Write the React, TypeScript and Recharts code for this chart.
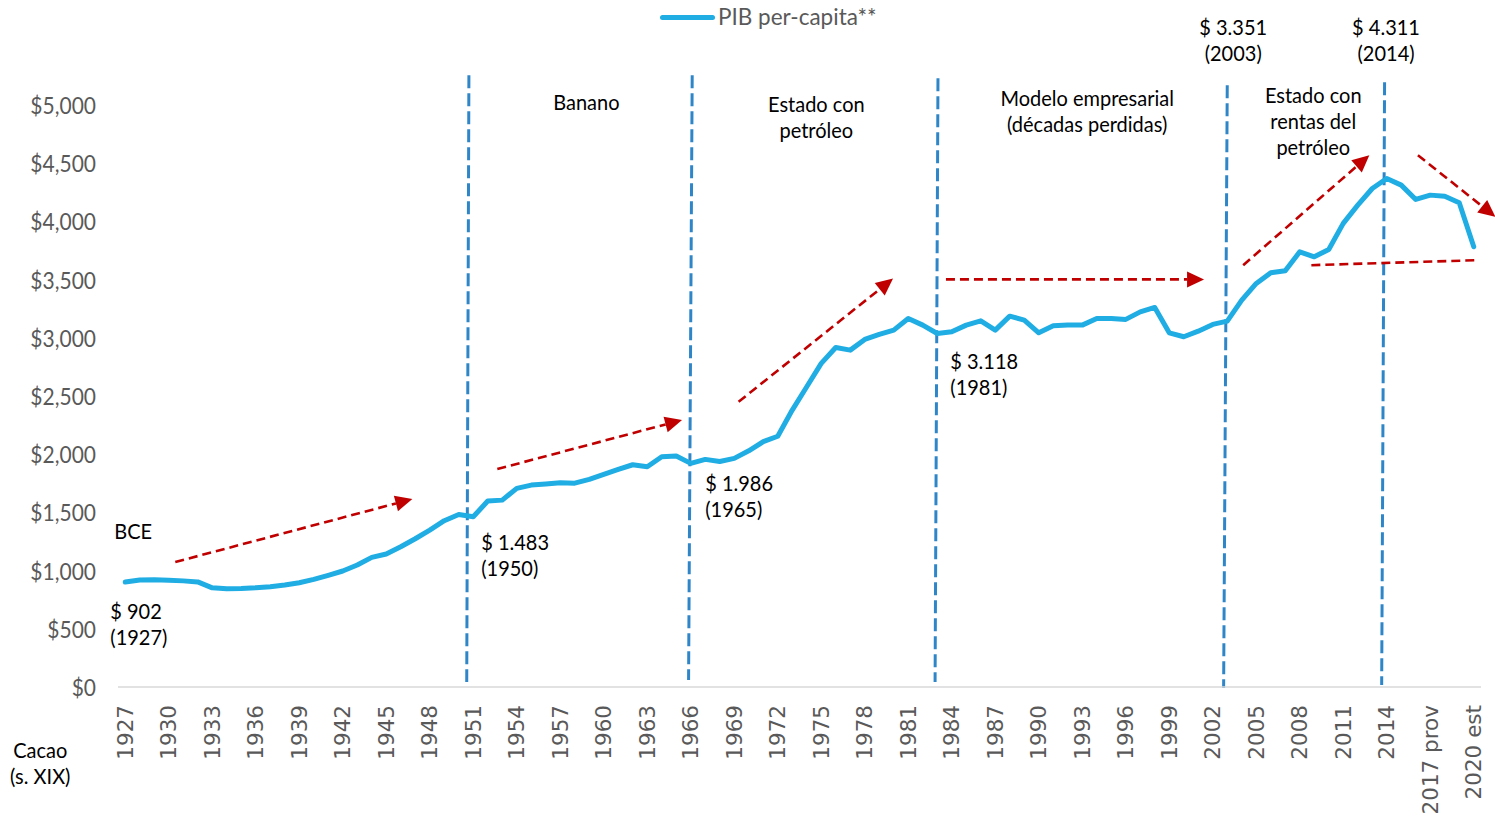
import React from "react";
import {
  ComposedChart,
  Line,
  XAxis,
  YAxis,
  ReferenceLine,
  ReferenceDot,
  Legend,
} from "recharts";

const years = [
  1927, 1928, 1929, 1930, 1931, 1932, 1933, 1934, 1935, 1936, 1937, 1938, 1939, 1940, 1941, 1942,
  1943, 1944, 1945, 1946, 1947, 1948, 1949, 1950, 1951, 1952, 1953, 1954, 1955, 1956, 1957, 1958,
  1959, 1960, 1961, 1962, 1963, 1964, 1965, 1966, 1967, 1968, 1969, 1970, 1971, 1972, 1973, 1974,
  1975, 1976, 1977, 1978, 1979, 1980, 1981, 1982, 1983, 1984, 1985, 1986, 1987, 1988, 1989, 1990,
  1991, 1992, 1993, 1994, 1995, 1996, 1997, 1998, 1999, 2000, 2001, 2002, 2003, 2004, 2005, 2006,
  2007, 2008, 2009, 2010, 2011, 2012, 2013, 2014, 2015, 2016, 2017, 2018, 2019, 2020,
];

const pibPerCapita = [
  902, 919, 922, 918, 912, 903, 852, 845, 847, 853, 862, 876, 896, 925, 960, 997,
  1048, 1114, 1143, 1205, 1274, 1349, 1429, 1483, 1463, 1598, 1606, 1707, 1735, 1744, 1755, 1752,
  1784, 1827, 1870, 1910, 1893, 1979, 1986, 1922, 1956, 1938, 1965, 2030, 2108, 2155, 2380, 2580,
  2781, 2918, 2895, 2987, 3030, 3067, 3167, 3110, 3038, 3053, 3110, 3147, 3067, 3187, 3153, 3044,
  3104, 3110, 3110, 3167, 3167, 3159, 3224, 3262, 3044, 3010, 3058, 3116, 3144, 3325, 3468, 3560,
  3577, 3740, 3697, 3760, 3984, 4141, 4284, 4370, 4313, 4190, 4227, 4218, 4161, 3783,
];

const xTicks = [
  1927, 1930, 1933, 1936, 1939, 1942, 1945, 1948, 1951, 1954, 1957, 1960, 1963, 1966, 1969, 1972,
  1975, 1978, 1981, 1984, 1987, 1990, 1993, 1996, 1999, 2002, 2005, 2008, 2011, 2014, 2017, 2020,
];
const xTickLabels = [
  "1927", "1930", "1933", "1936", "1939", "1942", "1945", "1948", "1951", "1954", "1957", "1960",
  "1963", "1966", "1969", "1972", "1975", "1978", "1981", "1984", "1987", "1990", "1993", "1996",
  "1999", "2002", "2005", "2008", "2011", "2014", "2017 prov", "2020 est",
];

const yTicks = [0, 500, 1000, 1500, 2000, 2500, 3000, 3500, 4000, 4500, 5000];

// period separators
const separators = [
  { xTop: 1950.7, xBottom: 1950.55, yTop: 5258, yBottom: 43 },
  { xTop: 1966.1, xBottom: 1965.85, yTop: 5258, yBottom: 60 },
  { xTop: 1983.05, xBottom: 1982.85, yTop: 5232, yBottom: 43 },
  { xTop: 2003.0, xBottom: 2002.75, yTop: 5172, yBottom: -8 },
  { xTop: 2013.85, xBottom: 2013.65, yTop: 5198, yBottom: 17 },
];

// trend arrows
const trends = [
  { x1: 1930.45, y1: 1074, x2: 1946.8, y2: 1615, arrow: true },
  { x1: 1952.66, y1: 1873, x2: 1965.4, y2: 2294, arrow: true },
  { x1: 1969.3, y1: 2451, x2: 1979.95, y2: 3510, arrow: true },
  { x1: 1983.6, y1: 3503, x2: 2001.4, y2: 3503, arrow: true },
  { x1: 2004.1, y1: 3625, x2: 2012.8, y2: 4570, arrow: true },
  { x1: 2016.15, y1: 4570, x2: 2021.5, y2: 4040, arrow: true },
  { x1: 2008.8, y1: 3625, x2: 2020.3, y2: 3668, arrow: false },
];

const notes = [
  { x: 1926.24, y: 1349, anchor: "start", lines: ["BCE"] },
  { x: 1925.97, y: 661, anchor: "start", lines: ["$ 902", "(1927)"] },
  { x: 1951.55, y: 1254, anchor: "start", lines: ["$ 1.483", "(1950)"] },
  { x: 1967.0, y: 1761, anchor: "start", lines: ["$ 1.986", "(1965)"] },
  { x: 1983.9, y: 2809, anchor: "start", lines: ["$ 3.118", "(1981)"] },
  { x: 1958.8, y: 5034, anchor: "middle", lines: ["Banano"] },
  { x: 1974.66, y: 5017, anchor: "middle", lines: ["Estado con", "petróleo"] },
  { x: 1993.34, y: 5069, anchor: "middle", lines: ["Modelo empresarial", "(décadas perdidas)"] },
  { x: 2008.93, y: 5095, anchor: "middle", lines: ["Estado con", "rentas del", "petróleo"] },
  { x: 2003.41, y: 5679, anchor: "middle", lines: ["$ 3.351", "(2003)"] },
  { x: 2013.95, y: 5679, anchor: "middle", lines: ["$ 4.311", "(2014)"] },
  { x: 1921.14, y: -533, anchor: "middle", lines: ["Cacao", "(s. XIX)"] },
];

const data = years.map((y, i) => ({ year: y, pib: pibPerCapita[i] }));

const LINE_COLOR = "#1FADE4";
const SEP_COLOR = "#2E86C9";
const RED = "#C00000";
const NOTE_FONT = "Lato, 'Open Sans', sans-serif";

const XTick = (props: any) => {
  const { x, y, payload } = props;
  const idx = xTicks.indexOf(payload.value);
  const label = idx >= 0 ? xTickLabels[idx] : String(payload.value);
  return (
    <text
      x={x}
      y={y}
      transform={`rotate(-90, ${x}, ${y})`}
      textAnchor="end"
      dy="0.36em"
      fill="#595959"
      fontSize={21.5}
      fontFamily="'DejaVu Sans', sans-serif"
    >
      {label}
    </text>
  );
};

const YTick = (props: any) => {
  const { x, y, payload } = props;
  return (
    <g transform={`translate(${x}, ${y}) scale(1, 1.1)`}>
      <text x={0} y={0} textAnchor="end" dominantBaseline="central" fill="#595959" fontSize={21} fontFamily={NOTE_FONT}>
        {formatDollar(payload.value)}
      </text>
    </g>
  );
};

const formatDollar = (v: number) => "$" + v.toLocaleString("en-US");

const arrowShape = (withHead: boolean) => (p: any) => {
  const { x1, y1, x2, y2 } = p;
  if ([x1, y1, x2, y2].some((v) => v === undefined || isNaN(v))) return <g />;
  const dx = x2 - x1;
  const dy = y2 - y1;
  const len = Math.sqrt(dx * dx + dy * dy);
  const ux = dx / len;
  const uy = dy / len;
  const headLen = withHead ? 17 : 0;
  const headW = 8;
  const ex = x2 - ux * headLen;
  const ey = y2 - uy * headLen;
  return (
    <g>
      <line x1={x1} y1={y1} x2={ex} y2={ey} stroke={RED} strokeWidth={2.6} strokeDasharray="9 5" />
      {withHead && (
        <polygon
          points={`${x2},${y2} ${ex - uy * headW},${ey + ux * headW} ${ex + uy * headW},${ey - ux * headW}`}
          fill={RED}
        />
      )}
    </g>
  );
};

const sepShape = (p: any) => {
  const { x1, y1, x2, y2 } = p;
  if ([x1, y1, x2, y2].some((v) => v === undefined || isNaN(v))) return <g />;
  return <line x1={x1} y1={y1} x2={x2} y2={y2} stroke={SEP_COLOR} strokeWidth={3} strokeDasharray="13 5" />;
};

const noteShape = (lines: string[], anchor: string) => (p: any) => {
  const { cx, cy } = p;
  if (cx === undefined || cy === undefined) return <g />;
  return (
    <g>
      {lines.map((l, i) => (
        <g key={i} transform={`translate(${cx}, ${cy + i * 26}) scale(1, 1.1)`}>
          <text
            x={0}
            y={0}
            textAnchor={anchor}
            dominantBaseline="central"
            fontSize={20}
            fontFamily={NOTE_FONT}
            fill="#000"
          >
            {l}
          </text>
        </g>
      ))}
    </g>
  );
};

const LegendContent = () => (
  <div style={{ display: "flex", justifyContent: "flex-start", alignItems: "center", height: 30, paddingLeft: 660 }}>
    <div style={{ width: 55, height: 5, borderRadius: 3, background: LINE_COLOR, marginRight: 3 }} />
    <span style={{ fontFamily: NOTE_FONT, fontSize: 22.5, color: "#595959", lineHeight: "30px" }}>PIB per-capita**</span>
  </div>
);

export default function App() {
  return (
    <div style={{ position: "absolute", left: 0, top: 0, width: 1495, height: 826, background: "#fff" }}>
      <ComposedChart width={1495} height={826} data={data} margin={{ top: 17, right: 14, bottom: 0, left: 0 }}>
        <Legend
          verticalAlign="top"
          align="left"
          content={<LegendContent />}
          wrapperStyle={{ position: "absolute", top: 2, left: 0, width: 1495, height: 30 }}
        />
        <XAxis
          dataKey="year"
          type="number"
          domain={[1926.5, 2020.5]}
          ticks={xTicks}
          interval={0}
          tick={<XTick />}
          tickLine={false}
          tickSize={10}
          tickMargin={8}
          height={139}
          axisLine={{ stroke: "#D9D9D9", strokeWidth: 1.5 }}
          allowDataOverflow
        />
        <YAxis
          type="number"
          domain={[0, 5500]}
          ticks={yTicks}
          interval={0}
          width={118}
          axisLine={false}
          tickLine={false}
          tickSize={0}
          tickMargin={22}
          tick={<YTick />}
        />
        {separators.map((s, i) => (
          <ReferenceLine
            key={"sep" + i}
            segment={[
              { x: s.xTop, y: s.yTop },
              { x: s.xBottom, y: s.yBottom },
            ]}
            ifOverflow="visible"
            shape={sepShape}
          />
        ))}
        {trends.map((t, i) => (
          <ReferenceLine
            key={"tr" + i}
            segment={[
              { x: t.x1, y: t.y1 },
              { x: t.x2, y: t.y2 },
            ]}
            ifOverflow="visible"
            shape={arrowShape(t.arrow)}
          />
        ))}
        <Line
          type="linear"
          dataKey="pib"
          name="PIB per-capita**"
          stroke={LINE_COLOR}
          strokeWidth={5}
          strokeLinejoin="round"
          strokeLinecap="round"
          dot={false}
          activeDot={false}
          isAnimationActive={false}
        />
        {notes.map((n, i) => (
          <ReferenceDot
            key={"n" + i}
            x={n.x}
            y={n.y}
            r={0}
            ifOverflow="visible"
            shape={noteShape(n.lines, n.anchor)}
          />
        ))}
      </ComposedChart>
    </div>
  );
}
